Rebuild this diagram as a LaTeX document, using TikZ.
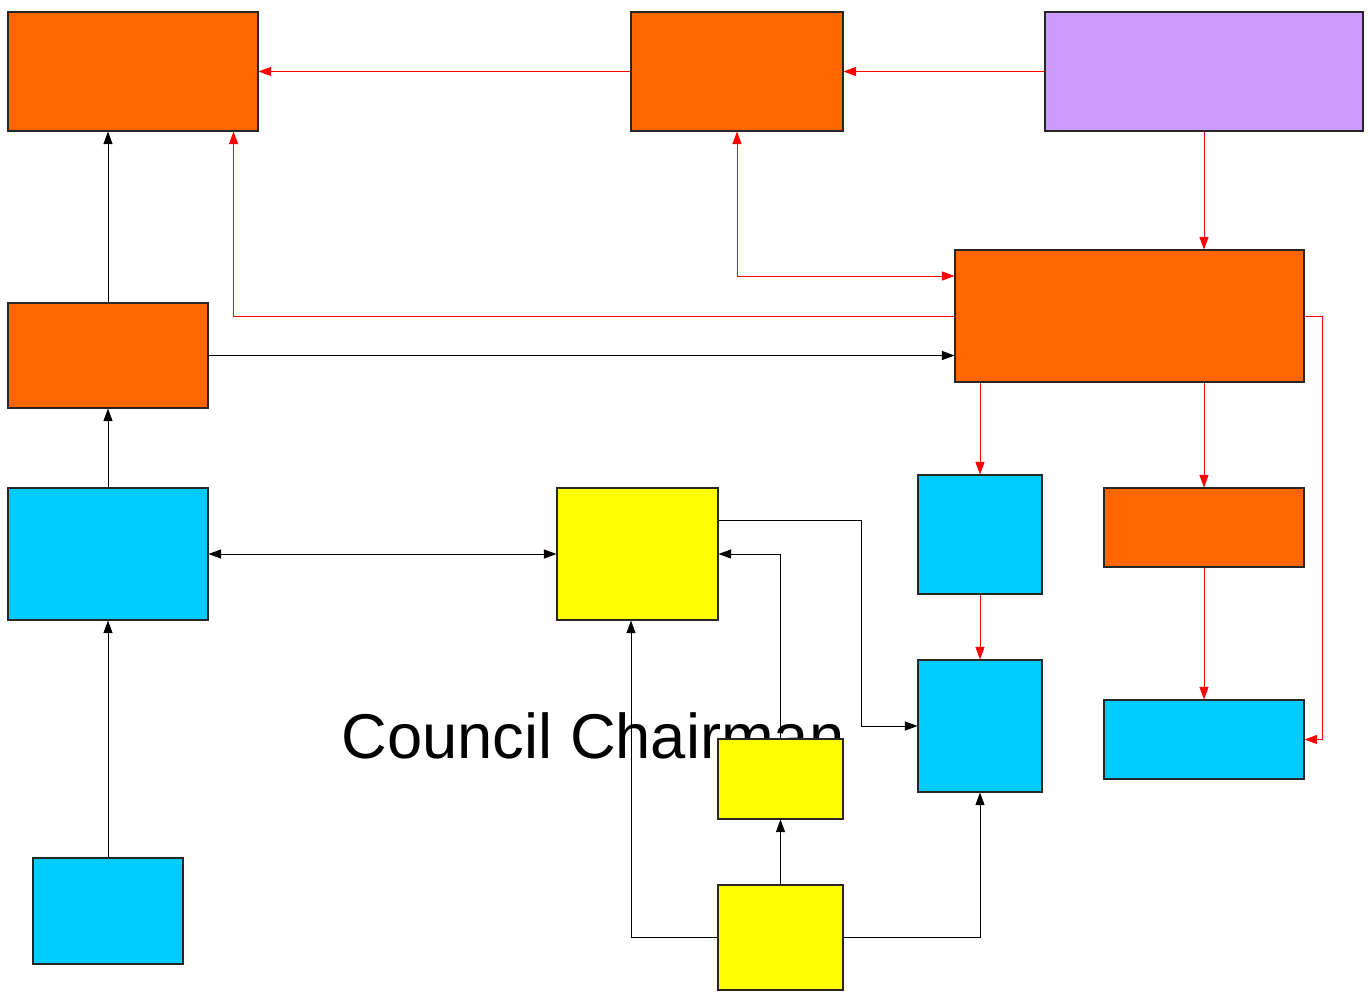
\documentclass[tikz,border=0pt]{standalone}
\usepackage{fontspec}
\setmainfont{Liberation Sans}
\usetikzlibrary{arrows.meta}
\definecolor{orgorange}{HTML}{FF6600}
\definecolor{orgcyan}{HTML}{00CCFF}
\definecolor{orgyellow}{HTML}{FFFF00}
\definecolor{orgpurple}{HTML}{CC99FF}
\pgfdeclarelayer{background}
\pgfsetlayers{background,main}
\begin{document}
\begin{tikzpicture}[>={Triangle[length=2.5mm,width=1.8mm]},
    box/.style={draw=black!85, line width=0.6pt, inner sep=0pt},
    blk/.style={draw=black, line width=0.5pt},
    red/.style={draw=red, line width=0.5pt}]
    \useasboundingbox (0,0) rectangle (27.36,-19.82);

    \node[inner sep=0pt, anchor=base, font=\fontsize{36}{40}\selectfont] (chair) at (11.86,-15.16) {Council Chairman};

    % top row
    \node[box, fill=orgorange, minimum width=5cm, minimum height=2.38cm] (tl) at (2.66,-1.43) {};
    \node[box, fill=orgorange, minimum width=4.24cm, minimum height=2.38cm] (tm) at (14.74,-1.43) {};
    \node[box, fill=orgpurple, minimum width=6.36cm, minimum height=2.38cm] (tr) at (24.08,-1.43) {};

    % middle
    \node[box, fill=orgorange, minimum width=6.98cm, minimum height=2.64cm] (hub) at (22.59,-6.32) {};
    \node[box, fill=orgorange, minimum width=4cm, minimum height=2.1cm] (lmid) at (2.16,-7.11) {};
    \node[box, fill=orgcyan, minimum width=4cm, minimum height=2.64cm] (lcyan) at (2.16,-11.08) {};
    \node[box, fill=orgyellow, minimum width=3.22cm, minimum height=2.64cm] (ycent) at (12.75,-11.08) {};
    \node[box, fill=orgcyan, minimum width=2.48cm, minimum height=2.38cm] (cyanA) at (19.6,-10.69) {};
    \node[box, fill=orgorange, minimum width=4cm, minimum height=1.58cm] (osmall) at (24.08,-10.55) {};

    % bottom
    \node[box, fill=orgcyan, minimum width=2.48cm, minimum height=2.64cm] (cyanB) at (19.6,-14.52) {};
    \node[box, fill=orgcyan, minimum width=4cm, minimum height=1.58cm] (cyanC) at (24.08,-14.79) {};
    \node[box, fill=orgyellow, minimum width=2.5cm, minimum height=1.6cm] (ysmall) at (15.61,-15.58) {};
    \node[box, fill=orgyellow, minimum width=2.5cm, minimum height=2.1cm] (ybot) at (15.61,-18.75) {};
    \node[box, fill=orgcyan, minimum width=3cm, minimum height=2.12cm] (lbot) at (2.16,-18.22) {};

    \begin{pgfonlayer}{background}
    % red links
    \draw[red, ->] (tm.west) -- (tl.east);
    \draw[red, ->] (tr.west) -- (tm.east);
    \draw[red, ->] (tr.south) -- (hub.north -| tr.south);
    \draw[red, <->] (tm.south) |- ([yshift=0.8cm]hub.west);
    \draw[red, ->] (hub.west) -| ([xshift=-0.5cm]tl.south east);
    \draw[red, ->] (hub.south -| cyanA.north) -- (cyanA.north);
    \draw[red, ->] (hub.south -| osmall.north) -- (osmall.north);
    \draw[red, ->] (hub.east) -- ++(0.36,0) |- (cyanC.east);
    \draw[red, ->] (cyanA.south) -- (cyanB.north);
    \draw[red, ->] (osmall.south) -- (cyanC.north);

    % black links
    \draw[blk, ->] (lmid.east) -- (hub.west |- lmid.east);
    \draw[blk, ->] (lmid.north) -- (tl.south -| lmid.north);
    \draw[blk, ->] (lcyan.north) -- (lmid.south);
    \draw[blk, ->] (lbot.north) -- (lcyan.south);
    \draw[blk, <->] (lcyan.east) -- (ycent.west);
    \draw[blk, ->] ([yshift=0.68cm]ycent.east) -- ++(2.86,0) |- (cyanB.west);
    \draw[blk, ->] (ysmall.north) |- (ycent.east);
    \draw[blk, ->] (ybot.north) -- (ysmall.south);
    \draw[blk, ->] (ybot.west) -| ([xshift=-0.13cm]ycent.south);
    \draw[blk, ->] (ybot.east) -| (cyanB.south);
    \end{pgfonlayer}
\end{tikzpicture}
\end{document}
